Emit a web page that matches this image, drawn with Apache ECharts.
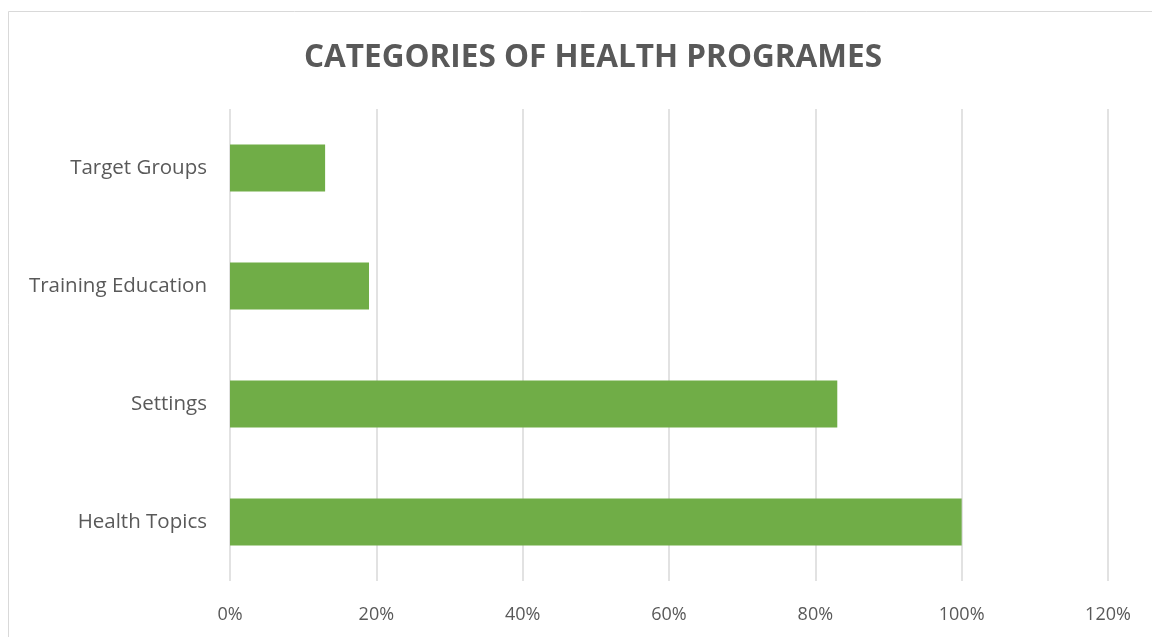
<!DOCTYPE html>
<html>
<head>
<meta charset="utf-8">
<style>
  html, body { margin: 0; padding: 0; background: #ffffff; }
  #chart { width: 1152px; height: 637px; }
</style>
<script src="https://cdn.jsdelivr.net/npm/echarts@6/dist/echarts.min.js"></script>
</head>
<body>
<div id="chart"></div>
<script>
// Programme categories, listed bottom to top as they appear on the axis
const categories = ['Health Topics', 'Settings', 'Training Education', 'Target Groups'];
// Share of programmes in each category (percent)
const shares = [100, 83, 19, 13];
// Value axis ticks (percent)
const tickValues = [0, 20, 40, 60, 80, 100, 120];

const chart = echarts.init(document.getElementById('chart'), null, { renderer: 'canvas' });

const labelFont = '"Open Sans", "Liberation Sans", sans-serif';

chart.setOption({
  backgroundColor: '#ffffff',
  animation: false,
  title: {
    text: 'CATEGORIES OF HEALTH PROGRAMES',
    left: 299,
    top: 37,
    textStyle: {
      color: '#595959',
      fontFamily: labelFont,
      fontWeight: 'bold',
      fontSize: 31.5
    }
  },
  graphic: [{
    type: 'rect',
    shape: { x: 8.5, y: 11.5, width: 1300, height: 800 },
    style: { fill: 'none', stroke: '#d9d9d9', lineWidth: 1 },
    silent: true,
    z: -1
  }],
  grid: { left: 230, right: 44, top: 109, bottom: 56, containLabel: false },
  xAxis: {
    type: 'value',
    min: tickValues[0],
    max: tickValues[tickValues.length - 1],
    interval: tickValues[1] - tickValues[0],
    axisLine: { show: false },
    axisTick: { show: false },
    splitLine: { show: true, lineStyle: { color: '#d9d9d9', width: 1.5 } },
    axisLabel: {
      margin: 25,
      color: '#595959',
      fontFamily: labelFont,
      fontSize: 18,
      formatter: v => v + '%'
    }
  },
  yAxis: {
    type: 'category',
    data: categories,
    axisLine: { show: false },
    axisTick: { show: false },
    axisLabel: {
      margin: 23,
      color: '#595959',
      fontFamily: labelFont,
      fontSize: 20.5
    }
  },
  series: [{
    type: 'bar',
    data: shares,
    barCategoryGap: '60%',
    itemStyle: { color: '#70ad47' },
    label: { show: false }
  }]
});
</script>
</body>
</html>
